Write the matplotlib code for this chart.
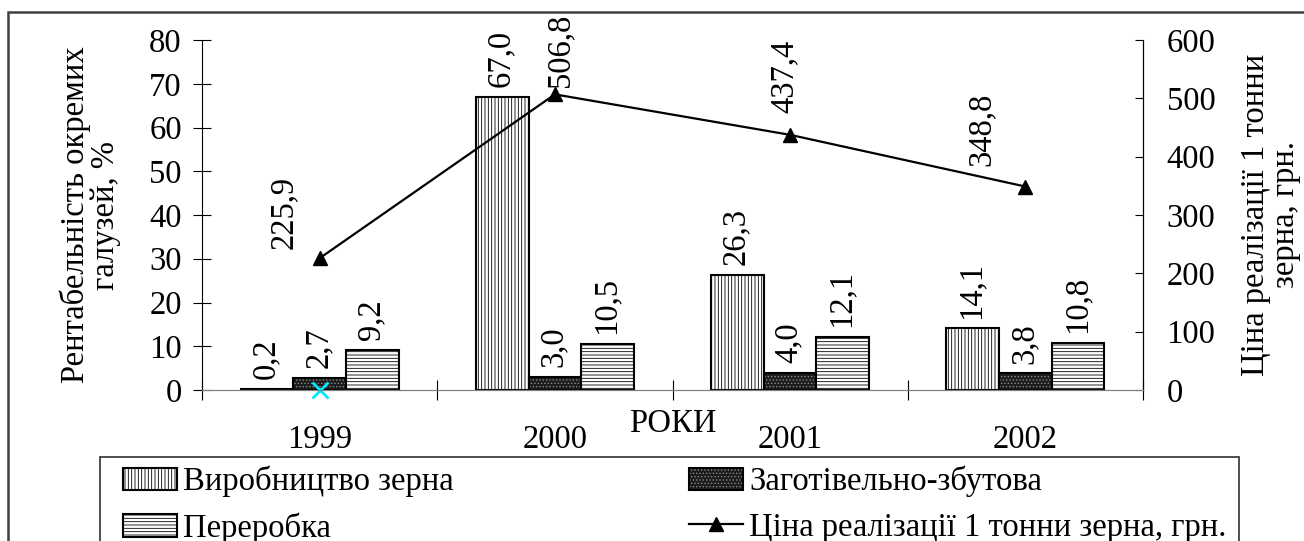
import numpy as np
import matplotlib.pyplot as plt
from matplotlib.patches import Rectangle
from matplotlib.legend_handler import HandlerTuple

plt.rcParams['font.family'] = 'Liberation Serif'
plt.rcParams['font.size'] = 23.5
plt.rcParams['hatch.linewidth'] = 0.6

# data
years = ['1999', '2000', '2001', '2002']
grain = [0.2, 67.0, 26.3, 14.1]           # Виробництво зерна
procurement = [2.7, 3.0, 4.0, 3.8]        # Заготівельно-збутова
processing = [9.2, 10.5, 12.1, 10.8]      # Переробка
price = [225.9, 506.8, 437.4, 348.8]      # Ціна реалізації 1 тонни зерна, грн.

# label offsets for the price labels (points)
price_offsets = [(-26, 7), (4, 5), (-4, 16), (-32, 15)]

def fmt(v):
    return ('%.1f' % v).replace('.', ',')

fig = plt.figure(figsize=(13.04, 5.41), dpi=100)
ax = fig.add_axes([202/1304, 1-390/541, (1143-202)/1304, 350/541])
ax2 = ax.twinx()

x = np.arange(len(years))
w = 0.224

b1 = ax.bar(x - w, grain, w, facecolor='white', edgecolor='black', hatch='|||||', lw=1.5)
b2a = ax.bar(x, procurement, w, facecolor='#1c1c1c', edgecolor='#8a8a8a', hatch='.....', lw=0)
b2b = ax.bar(x, procurement, w, fill=False, edgecolor='black', lw=1.5)
b3 = ax.bar(x + w, processing, w, facecolor='white', edgecolor='black', hatch='-----', lw=1.5)

for xs, vals in [(x - w, grain), (x, procurement), (x + w, processing)]:
    for xi, v in zip(xs, vals):
        ax.annotate(fmt(v), (xi, v), xytext=(-1, 7), textcoords='offset points',
                    rotation=90, ha='center', va='bottom')

ln, = ax2.plot(x, price, color='black', lw=1.6, marker='^', markersize=10)
for xi, v, off in zip(x, price, price_offsets):
    ax2.annotate(fmt(v), (xi, v), xytext=off, textcoords='offset points',
                 rotation=90, ha='center', va='bottom')

ax.plot([0], [0], ls='none', marker='x', color='#00e8ff', markersize=11, mew=2, clip_on=False, zorder=5)

ax.set_xlim(-0.5, 3.5)
ax.set_ylim(0, 80)
ax2.set_ylim(0, 600)
ax.set_yticks(range(0, 81, 10))
ax2.set_yticks(range(0, 601, 100))

ax.set_xticks([-0.5, 0.5, 1.5, 2.5, 3.5])
ax.set_xticklabels([])
ax.set_xticks(x, minor=True)
ax.set_xticklabels(years, minor=True)
ax.tick_params(axis='x', which='major', direction='inout', length=14, color='black')
ax.tick_params(axis='x', which='minor', length=0, pad=25)
ax.tick_params(axis='y', direction='inout', length=13, pad=8)
ax2.tick_params(axis='y', direction='in', length=6, pad=17)

for a in (ax, ax2):
    a.spines['top'].set_visible(False)
    a.spines['bottom'].set_color('#808080')
ax2.spines['left'].set_visible(False)

ax.set_ylabel('Рентабельність окремих\nгалузей, %', labelpad=20, linespacing=1.0)
ax2.set_ylabel('Ціна реалізації 1 тонни\nзерна, грн.', labelpad=18, linespacing=1.0)
ax.text(0.5, -0.097, 'РОКИ', transform=ax.transAxes, ha='center', va='center')

# outer frame and legend frame
fig.patches.append(Rectangle((8/1304, -0.2), 1.2, 1.2 - 12/541, transform=fig.transFigure,
                             fill=False, edgecolor='#404040', lw=1.8))
fig.patches.append(Rectangle((100/1304, -0.2), (1239-100)/1304, 0.2 + 1 - 457/541,
                             transform=fig.transFigure, fill=False, edgecolor='#303030', lw=1.2))

handles = [b1, (b2a, b2b), b3, ln]
labels = ['Виробництво зерна', 'Заготівельно-збутова', 'Переробка',
          'Ціна реалізації 1 тонни зерна, грн.']
order = [0, 2, 1, 3]
fig.legend([handles[i] for i in order], [labels[i] for i in order], ncol=2,
           loc='upper left', bbox_to_anchor=(100/1304, 1-443/541), frameon=False,
           handlelength=1.65, handleheight=0.7, handletextpad=0.2,
           columnspacing=7.2, labelspacing=0.45, borderpad=0.2,
           handler_map={tuple: HandlerTuple(ndivide=1, pad=0)})

fig.savefig('out.png', dpi=100)
